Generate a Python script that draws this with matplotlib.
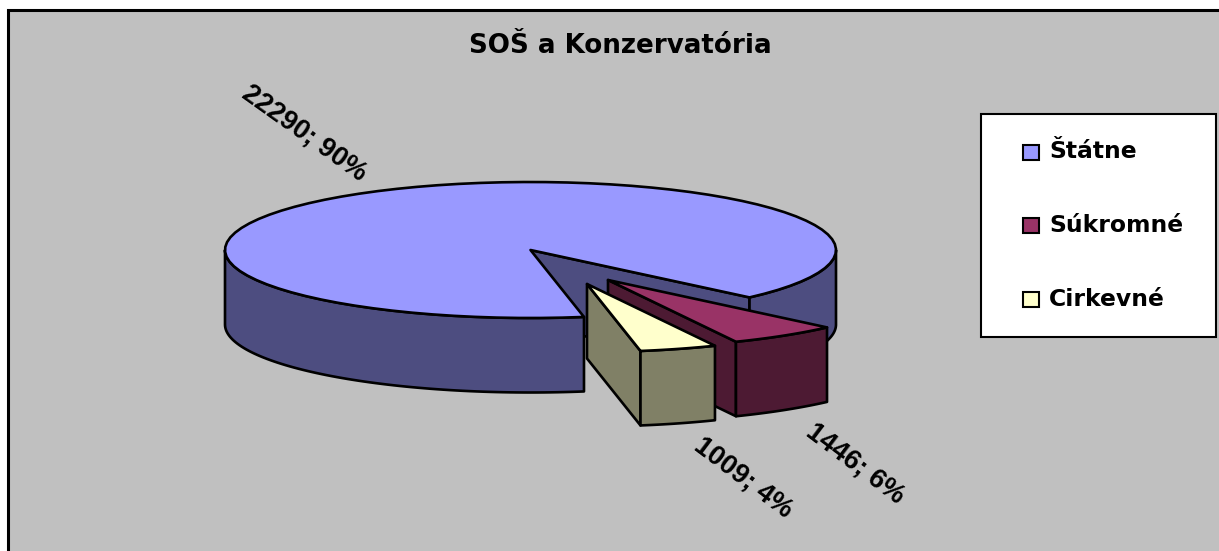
import numpy as np
import matplotlib
matplotlib.use('Agg')
import matplotlib.pyplot as plt
from matplotlib.patches import Polygon, Rectangle

title = 'SOŠ a Konzervatória'
names = ['Štátne', 'Súkromné', 'Cirkevné']
values = [22290, 1446, 1009]
percents = [90, 6, 4]

top_colors = ['#9999FF', '#993366', '#FFFFCC']
side_colors = ['#4D4D80', '#4D1A33', '#808066']

# pie geometry in image pixels
cx, cy = 530.5, 250.0
rx, ry = 305.5, 68.0
depth = 74.5
start = 44.2  # where the small slices begin, degrees on the ellipse

# exploded slices get moved by this many pixels
shift_sukromne = (77.5, 30.0)
shift_cirkevne = (56.5, 34.0)

W, H = 1219, 551
fig = plt.figure(figsize=(W / 100, H / 100), dpi=100, facecolor='white')
ax = fig.add_axes([0, 0, 1, 1])
ax.set_xlim(0, W)
ax.set_ylim(H, 0)
ax.axis('off')

LW = 1.9


def rim(t0, t1, dx=0.0, dy=0.0, drop=0.0):
    t = np.radians(np.linspace(t0, t1, 80))
    return np.column_stack([cx + dx + rx * np.cos(t), cy + dy + drop + ry * np.sin(t)])


def apex(dx=0.0, dy=0.0, drop=0.0):
    return np.array([[cx + dx, cy + dy + drop]])


def poly(points, color, z):
    ax.add_patch(Polygon(points, closed=True, facecolor=color, edgecolor='black',
                         linewidth=LW, joinstyle='round', zorder=z))


def wall(t0, t1, color, z, dx=0.0, dy=0.0):
    poly(np.vstack([rim(t0, t1, dx, dy), rim(t1, t0, dx, dy, depth)]), color, z)


def radial_wall(t, color, z, dx=0.0, dy=0.0):
    poly(np.vstack([apex(dx, dy), rim(t, t, dx, dy)[:1],
                    rim(t, t, dx, dy, depth)[:1], apex(dx, dy, depth)]), color, z)


def top(t0, t1, color, z, dx=0.0, dy=0.0):
    poly(np.vstack([apex(dx, dy), rim(t0, t1, dx, dy)]), color, z)


# background panel, runs off the right and bottom of the picture
ax.add_patch(Rectangle((7.5, 10), W, H, facecolor='#C0C0C0', edgecolor='black',
                       linewidth=2.2, zorder=0))

total = sum(values)
a_suk = start + 360 * values[1] / total
a_cir = a_suk + 360 * values[2] / total

# big slice
radial_wall(start, side_colors[0], 1)
wall(0, start, side_colors[0], 2)
wall(a_cir, 180, side_colors[0], 2)
top(a_cir, start + 360, top_colors[0], 3)

# sukromne
sx, sy = shift_sukromne
radial_wall(a_suk, side_colors[1], 4, sx, sy)
wall(start, a_suk, side_colors[1], 5, sx, sy)
top(start, a_suk, top_colors[1], 6, sx, sy)

# cirkevne
ox, oy = shift_cirkevne
radial_wall(a_cir, side_colors[2], 7, ox, oy)
wall(a_suk, a_cir, side_colors[2], 8, ox, oy)
top(a_suk, a_cir, top_colors[2], 9, ox, oy)

ax.text(620, 46, title, fontsize=18.8, fontweight='bold', family='DejaVu Sans',
        ha='center', va='center', zorder=10)

# data labels
label_pos = [(304, 133), (855, 464), (743, 478)]
label_rot = [-35.5, -37, -37]
for v, p, pos, rot in zip(values, percents, label_pos, label_rot):
    ax.text(pos[0], pos[1], f'{v}; {p}%', fontsize=19.5, family='Liberation Sans',
            fontweight='bold', rotation=rot, rotation_mode='anchor',
            ha='center', va='center', zorder=10)

# legend
ax.add_patch(Rectangle((981, 114), 235, 223, facecolor='white', edgecolor='black',
                       linewidth=1.5, zorder=10))
legend_y = [152, 225, 299]
for name, col, y in zip(names, top_colors, legend_y):
    ax.add_patch(Rectangle((1023, y - 7.5), 16, 15, facecolor=col, edgecolor='black',
                           linewidth=1.5, zorder=11))
    ax.text(1049, y, name, fontsize=16.9, fontweight='bold', family='DejaVu Sans',
            ha='left', va='center', zorder=11)

fig.savefig('out.png', dpi=100)
